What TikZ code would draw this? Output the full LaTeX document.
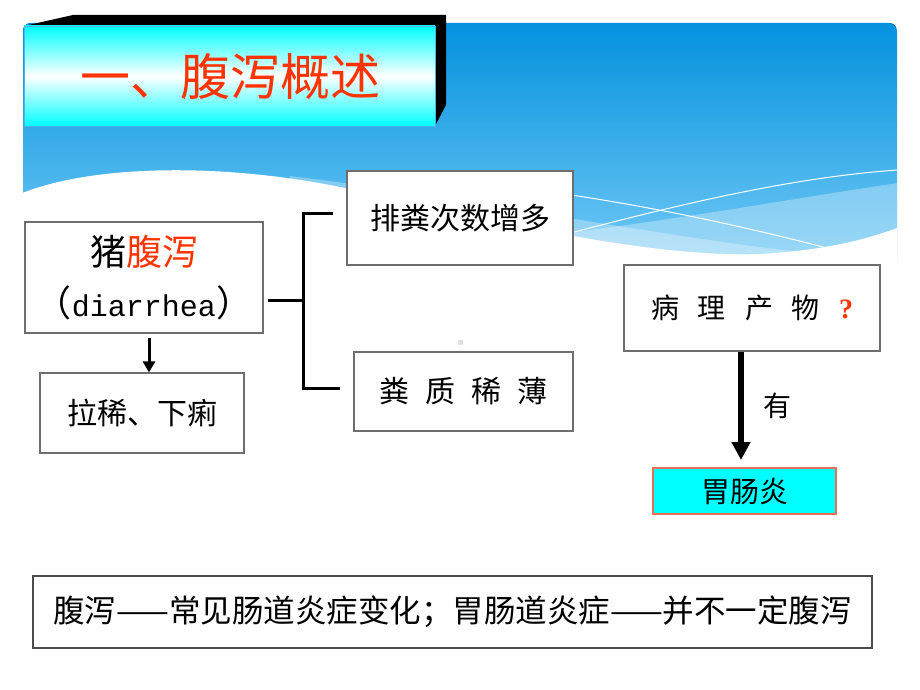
\documentclass[tikz,border=0pt]{standalone}
\usepackage{fontspec}
\setmainfont{Noto Sans CJK SC}
\newfontfamily\latinmono{Liberation Mono}
\newfontfamily\qmarkfont{Liberation Serif}
\usepackage{tikz}
\usetikzlibrary{arrows.meta,positioning,calc}
\definecolor{titlered}{RGB}{255,51,0}
\definecolor{bluetop}{RGB}{4,146,222}
\definecolor{bluebot}{RGB}{112,200,245}
\definecolor{boxgray}{RGB}{110,110,110}
\definecolor{gutborder}{RGB}{232,110,90}
\definecolor{aqua}{RGB}{0,255,255}
\tikzset{
     box/.style={draw=boxgray, line width=1.2pt, fill=white, inner sep=0pt, font=\fontsize{30}{36}\selectfont},
      bracketline/.style = {black, line width=3pt, line join=miter},
      thinarrow/.style = {black, line width=3pt, -{Triangle[length=11pt,width=12pt]}},
      thickarrow/.style = {black, line width=5.5pt, -{Triangle[length=18pt,width=18pt]}},
      band/.style = {white, opacity=#1},
    }

\begin{document}
\begin{tikzpicture}[x=1pt,y=-1pt]
        \useasboundingbox (0,0) rectangle (920,690);
        \fill[white] (0,0) rectangle (920,690);

        \begin{scope}
        \clip[rounded corners=8pt] (23,23) rectangle (897,300);
        \fill[top color=bluetop, bottom color=bluebot] (23,23) rectangle (897,260);
        \fill[band=0.3] (290,176) .. controls (450,195) and (650,235) .. (800,252) -- (800,270) -- (290,270) -- cycle;
        \fill[band=0.3] (400,250) .. controls (600,235) and (780,200) .. (898,183) -- (898,270) -- (400,270) -- cycle;
        \draw[white, line width=1pt] (420,178) .. controls (560,188) and (700,215) .. (827,248);
        \draw[white, line width=1pt] (540,241) .. controls (650,212) and (780,178) .. (898,170);
        \fill[white] (20,194) .. controls (90,165) and (220,162) .. (345,188) .. controls (500,222) and (650,258) .. (760,254) .. controls (830,250) and (870,238) .. (900,227) -- (900,300) -- (20,300) -- cycle;
        \end{scope}

        \fill[black] (24,26) -- (73,15) -- (446,15) -- (446,105) -- (435,126) -- (435,26) -- cycle;
        \shade[top color=aqua, bottom color=aqua, middle color=white] (24,26) rectangle (435,126);
        \draw[bluetop!70, line width=0.6pt] (24,26) rectangle (435,126);
        \node[text=titlered, font=\fontsize{50}{60}\selectfont] (title) at (230,77) {一、腹泻概述};

        \node[box, minimum width=238pt, minimum height=111pt, align=center, font=\fontsize{36}{51}\selectfont] (pig) at (144,277.5)
            {猪\textcolor{titlered}{腹泻}\\（{\latinmono\fontsize{30}{51}\selectfont diarrhea}）};
        \node[box, minimum width=204pt, minimum height=80pt] (lax) at (142,413) {拉稀、下痢};
        \node[box, minimum width=226pt, minimum height=94pt] (freq) at (460,218) {排粪次数增多};
        \node[box, minimum width=219pt, minimum height=79pt] (thin) at (463.5,391.5) {粪\hspace{16pt}质\hspace{16pt}稀\hspace{16pt}薄};
        \node[box, minimum width=256pt, minimum height=86pt, font=\fontsize{28}{34}\selectfont] (prod) at (752,308)
            {病\hspace{19pt}理\hspace{19pt}产\hspace{19pt}物\hspace{19pt}{\qmarkfont\bfseries\textcolor{titlered}{?}}\hspace{16pt}};
        \node[box, fill=aqua, draw=gutborder, minimum width=183pt, minimum height=46pt, font=\fontsize{29}{34}\selectfont] (gut) at (744.5,491) {胃肠炎};
        \node[box, draw=black!70, minimum width=839pt, minimum height=72pt, font=\fontsize{31.5}{36}\selectfont] (note) at (452.5,612)
            {腹泻——常见肠道炎症变化；胃肠道炎症——并不一定腹泻};
        \node[fill=black!12, minimum size=5pt, inner sep=0pt] (speck) at (460,342) {};

        \coordinate (bstart) at (268,300);
        \coordinate (bmid) at (303,300);
        \coordinate (btop) at (333,213);
        \coordinate (bbot) at (340,388);
        \coordinate (gutin) at (741,460);

        \draw[thinarrow] ([xshift=5pt,yshift=-4pt]pig.south) -- ([xshift=7pt]lax.north);
        \draw[bracketline] (bstart) -- (bmid);
        \draw[bracketline] (btop) -| (bmid) |- (bbot);
        \draw[thickarrow] (prod.south -| gutin) -- node[midway, right=16pt, font=\fontsize{28}{34}\selectfont] (yes) {有} (gutin);
    \end{tikzpicture}
\end{document}
